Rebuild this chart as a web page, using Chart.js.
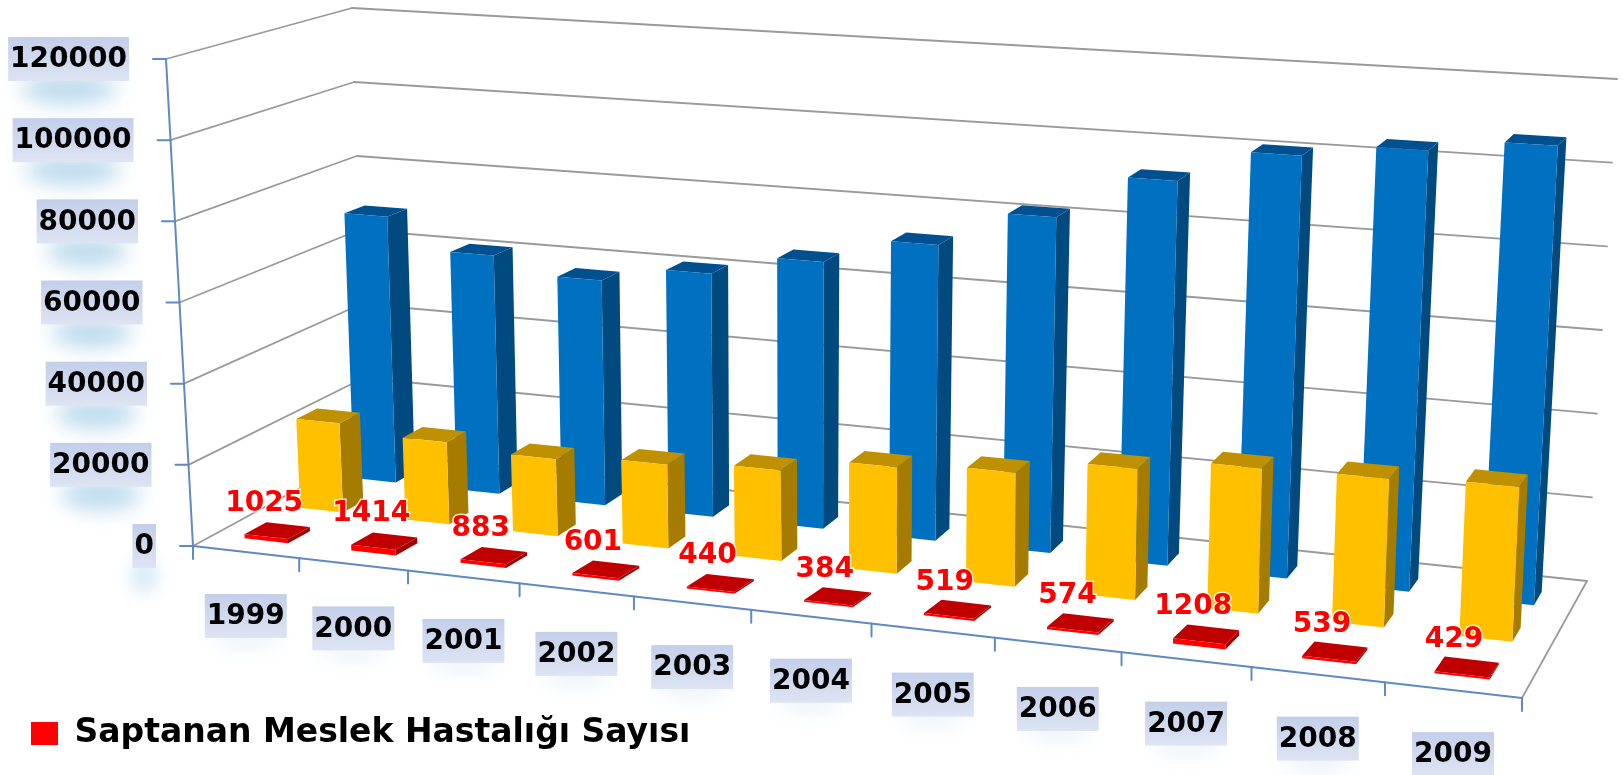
<!DOCTYPE html>
<html>
<head>
<meta charset="utf-8">
<title>Saptanan Meslek Hastalığı Sayısı</title>
<script src="https://cdn.jsdelivr.net/npm/chart.js@4"></script>
<style>
    html, body { margin: 0; padding: 0; background: #fff; }
    canvas { display: block; filter: blur(0.5px); }
</style>
</head>
<body>
<canvas id="chart3d" width="1623" height="775"></canvas>
<script>
// Data
const years = ['1999', '2000', '2001', '2002', '2003', '2004', '2005', '2006', '2007', '2008', '2009'];
const meslekHastaligi = [1025, 1414, 883, 601, 440, 384, 519, 574, 1208, 539, 429];
const yellowSeries = [22700, 20650, 19200, 20650, 22100, 25700, 27250, 31000, 33900, 34400, 35400];
const blueSeries = [69600, 61700, 57600, 61600, 66900, 73400, 82400, 93400, 101500, 104700, 107800];
const legendLabel = 'Saptanan Meslek Hastalığı Sayısı';

// Floor of the 3d box on screen: front left, front right, back right, back left
const floorQuad = [[193, 546], [1522, 698], [1587, 581], [366, 452]];
// how far the 120000 level sits from each of those corners
const riseQuad = [[-27, -487], [22, -545], [30, -502], [-14, -444]];
const depthOf = [0.17, 0.48, 0.80];
const depthSize = 0.12;
const faces = [
    {front: '#ff0000', side: '#a00000', top: '#c00000'},
    {front: '#ffc000', side: '#a67c00', top: '#bf9000'},
    {front: '#0070c0', side: '#004a80', top: '#00508f'}
];
const tickFont = 'bold 28px "DejaVu Sans"';

function makeHomography(q) {
    const [x0, y0] = q[0], [x1, y1] = q[1], [x2, y2] = q[2], [x3, y3] = q[3];
    const dx1 = x1 - x2, dx2 = x3 - x2, sx = x0 - x1 + x2 - x3;
    const dy1 = y1 - y2, dy2 = y3 - y2, sy = y0 - y1 + y2 - y3;
    const den = dx1 * dy2 - dx2 * dy1;
    const g = (sx * dy2 - dx2 * sy) / den;
    const h = (dx1 * sy - sx * dy1) / den;
    const a = x1 - x0 + g * x1, b = x3 - x0 + h * x3;
    const d = y1 - y0 + g * y1, e = y3 - y0 + h * y3;
    return (u, w) => {
        const n = g * u + h * w + 1;
        return [(a * u + b * w + x0) / n, (d * u + e * w + y0) / n];
    };
}
const floorMap = makeHomography(floorQuad);

// u along the years, w into the picture, v up the value axis (all 0..1)
function project(u, w, v) {
    // the rows are a bit more squeezed on the left than the homography gives
    const squeeze = 0.022 + 0.02 * Math.max(0, 1 - w / 0.3);
    const u2 = u - squeeze * u * (1 - u);
    const p = floorMap(u2, w);
    const L = floorMap(0, w), R = floorMap(1, w);
    const s = (p[0] - L[0]) / (R[0] - L[0]);
    const rise = [0, 1].map(k => {
        const left = riseQuad[0][k] + (riseQuad[3][k] - riseQuad[0][k]) * w;
        const right = riseQuad[1][k] + (riseQuad[2][k] - riseQuad[1][k]) * w;
        return left + (right - left) * s;
    });
    return [p[0] + rise[0] * v, p[1] + rise[1] * v];
}

function uOf(chart, px) {
    return (px - chart.chartArea.left) / chart.chartArea.width;
}
function vOf(chart, py) {
    return (chart.chartArea.bottom - py) / chart.chartArea.height;
}

function line(ctx, a, b, color, width) {
    ctx.strokeStyle = color;
    ctx.lineWidth = width;
    ctx.beginPath();
    ctx.moveTo(a[0], a[1]);
    ctx.lineTo(b[0], b[1]);
    ctx.stroke();
}

function poly(ctx, pts, color) {
    ctx.fillStyle = color;
    ctx.beginPath();
    pts.forEach((p, i) => i ? ctx.lineTo(p[0], p[1]) : ctx.moveTo(p[0], p[1]));
    ctx.closePath();
    ctx.fill();
}

function tickLabel(ctx, text, cx, cy, glowH) {
    ctx.font = tickFont;
    const w = ctx.measureText(text).width + 4;
    const h = 44;
    ctx.save();
    ctx.filter = 'blur(10px)';
    ctx.fillStyle = 'rgba(169,208,232,0.75)';
    ctx.beginPath();
    ctx.ellipse(cx, cy + h / 2 + glowH / 2, w * 0.4, glowH, 0, 0, Math.PI * 2);
    ctx.fill();
    ctx.restore();
    const grad = ctx.createLinearGradient(0, cy - h / 2, 0, cy + h / 2);
    grad.addColorStop(0, '#c3cfea');
    grad.addColorStop(1, '#dde4f3');
    ctx.fillStyle = grad;
    ctx.fillRect(cx - w / 2, cy - h / 2, w, h);
    ctx.fillStyle = '#000';
    ctx.textAlign = 'center';
    ctx.textBaseline = 'middle';
    ctx.fillText(text, cx, cy + 1);
}

const box3d = {
    id: 'box3d',
    beforeDatasetsDraw(chart) {
        const ctx = chart.ctx;
        const xs = chart.scales.x, ys = chart.scales.y;
        const grid = '#9a9a9a', axis = '#5f8ac4';
        ctx.save();
        ctx.lineCap = 'round';
        ys.ticks.forEach(t => {
            const v = vOf(chart, ys.getPixelForValue(t.value));
            const a = project(0, 0, v), b = project(0, 1, v), c = project(1, 1, v);
            line(ctx, a, b, grid, 1.8);
            line(ctx, b, c, grid, 1.8);
            line(ctx, a, [a[0] - 13, a[1]], axis, 2);
            ctx.font = tickFont;
            tickLabel(ctx, String(t.value), a[0] - 39 - ctx.measureText(String(t.value)).width / 2, a[1], 16);
        });
        line(ctx, project(1, 0, 0), project(1, 1, 0), grid, 1.8);
        line(ctx, project(0, 0, 0), project(0, 0, 1), axis, 2);
        line(ctx, project(0, 0, 0), project(1, 0, 0), axis, 2);
        const n = xs.ticks.length;
        for (let i = 0; i <= n; i++) {
            const p = project(i / n, 0, 0);
            line(ctx, p, [p[0], p[1] + 13], axis, 2);
        }
        xs.ticks.forEach((t, i) => {
            const p = project((i + 0.5) / n, 0, 0);
            tickLabel(ctx, t.label, p[0], p[1] + 64, 3);
        });
        ctx.restore();
    },
    beforeDatasetDraw(chart, args) {
        const ctx = chart.ctx;
        const w0 = depthOf[args.index] - depthSize / 2, w1 = w0 + depthSize;
        const col = faces[args.index];
        args.meta.data.forEach(bar => {
            const u0 = uOf(chart, bar.x - bar.width / 2), u1 = uOf(chart, bar.x + bar.width / 2);
            const v0 = vOf(chart, bar.base), v1 = vOf(chart, bar.y);
            poly(ctx, [project(u1, w0, v0), project(u1, w1, v0), project(u1, w1, v1), project(u1, w0, v1)], col.side);
            poly(ctx, [project(u0, w0, v1), project(u1, w0, v1), project(u1, w1, v1), project(u0, w1, v1)], col.top);
            poly(ctx, [project(u0, w0, v0), project(u1, w0, v0), project(u1, w0, v1), project(u0, w0, v1)], col.front);
        });
        return false;
    },
    afterDatasetsDraw(chart) {
        // value labels of the red series
        const ctx = chart.ctx;
        const meta = chart.getDatasetMeta(0);
        ctx.save();
        ctx.font = tickFont;
        ctx.textAlign = 'center';
        ctx.textBaseline = 'middle';
        meta.data.forEach((bar, i) => {
            const p = project(uOf(chart, bar.x), depthOf[0], vOf(chart, bar.y));
            const text = String(meslekHastaligi[i]);
            ctx.lineWidth = 3;
            ctx.strokeStyle = 'rgba(255,255,255,0.8)';
            ctx.strokeText(text, p[0] - 13, p[1] - 27);
            ctx.fillStyle = '#ff0000';
            ctx.fillText(text, p[0] - 13, p[1] - 27);
        });
        ctx.restore();
    }
};

new Chart(document.getElementById('chart3d').getContext('2d'), {
    type: 'bar',
    data: {
        labels: years,
        datasets: [
            {label: legendLabel, data: meslekHastaligi, backgroundColor: '#ff0000', borderWidth: 0},
            {label: '', data: yellowSeries, backgroundColor: '#ffc000', borderWidth: 0},
            {label: '', data: blueSeries, backgroundColor: '#0070c0', borderWidth: 0}
        ]
    },
    plugins: [box3d],
    options: {
        responsive: false,
        animation: false,
        grouped: false,
        barPercentage: 0.41,
        categoryPercentage: 1,
        layout: {padding: {left: 21, bottom: 15}},
        plugins: {
            tooltip: {enabled: false},
            legend: {
                position: 'bottom',
                align: 'start',
                labels: {
                    filter: item => item.text !== '',
                    boxWidth: 27,
                    boxHeight: 23,
                    color: '#000',
                    padding: 10,
                    font: {family: '"DejaVu Sans"', weight: 'bold', size: 33}
                }
            }
        },
        scales: {
            x: {type: 'category', display: false, offset: true},
            y: {type: 'linear', display: false, min: 0, max: 120000, ticks: {stepSize: 20000}}
        }
    }
});
</script>
</body>
</html>
